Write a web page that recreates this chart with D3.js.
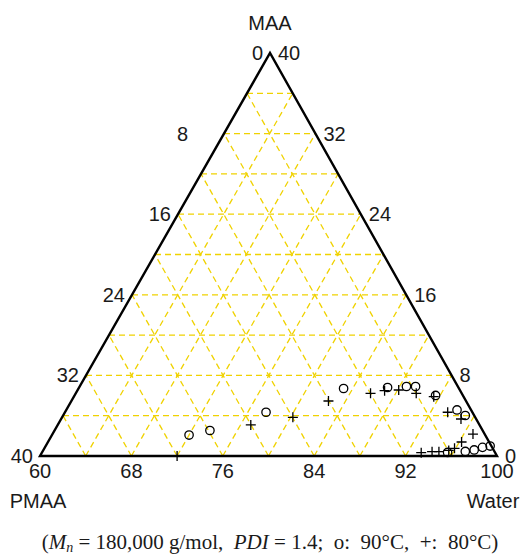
<!DOCTYPE html>
<html>
<head>
<meta charset="utf-8">
<script src="https://cdn.jsdelivr.net/npm/d3@7"></script>
<style>
  html, body { margin: 0; padding: 0; background: #fff; }
  svg { display: block; }
</style>
</head>
<body>
<script>
// ---- data (water %, MAA %; PMAA = 100 - water - MAA) ----
const circleWater = [72.0, 73.6, 77.6, 83.2, 87.0, 88.6, 89.4, 91.6, 94.2, 95.2, 95.5, 97.0, 97.7, 98.3, 98.9];
const circleMAA   = [2.08, 2.53, 4.34, 6.70, 6.80, 6.90, 6.90, 6.01, 4.57, 4.02, 0.35, 0.45, 0.60, 0.86, 0.99];
const plusWater = [72.0, 76.9, 80.2, 82.5, 85.8, 86.9, 88.1, 89.8, 91.5, 93.5, 95.0, 96.8, 96.2, 95.9, 93.2, 94.1, 94.7, 95.5];
const plusMAA   = [0.0, 3.08, 3.84, 5.46, 6.22, 6.48, 6.55, 6.22, 5.89, 4.34, 3.67, 2.18, 1.39, 0.76, 0.33, 0.43, 0.43, 0.55];
const gridSteps = [4, 8, 12, 16, 20, 24, 28, 32, 36];
const waterTicks = [60, 68, 76, 84, 92, 100];
const maaTicks = [0, 8, 16, 24, 32, 40];
const pmaaTicks = [0, 8, 16, 24, 32, 40];

const W = 525, H = 555;
const svg = d3.select("body").append("svg").attr("width", W).attr("height", H);

// ternary scales
const xBase = d3.scaleLinear().domain([60, 100]).range([40, 497]);
const shear = d3.scaleLinear().domain([0, 40]).range([0, 230]);
const yScale = d3.scaleLinear().domain([0, 40]).range([456, 53]);
const px = (w, m) => xBase(w) + shear(m);
const py = (w, m) => yScale(m);
const pt = (w, m) => [px(w, m), py(w, m)];

const line = d3.line();
const grid = svg.append("g").attr("fill", "none").attr("stroke", "#f0d200")
  .attr("stroke-width", 1.3).attr("stroke-dasharray", "6,4");

gridSteps.forEach(k => {
  grid.append("path").attr("d", line([pt(60, k), pt(100 - k, k)]));          // constant MAA
  grid.append("path").attr("d", line([pt(60 + k, 0), pt(60 + k, 40 - k)])); // constant water
  grid.append("path").attr("d", line([pt(100 - k, 0), pt(60, 40 - k)]));    // constant PMAA
});

// triangle frame
svg.append("path")
  .attr("d", line([pt(60, 0), pt(100, 0), pt(60, 40)]) + "Z")
  .attr("fill", "none").attr("stroke", "#000").attr("stroke-width", 2.4)
  .attr("stroke-linejoin", "miter");

const font = "'Liberation Sans', Arial, Helvetica, sans-serif";
const lab = svg.append("g").attr("font-family", font).attr("font-size", 20).attr("fill", "#1a1a1a");

// bottom (water) labels
waterTicks.forEach(w => {
  lab.append("text").attr("x", px(w, 0)).attr("y", 478).attr("text-anchor", "middle").text(w);
});
// left (PMAA) labels: on left edge, water = 60, MAA = 40 - p
pmaaTicks.forEach(p => {
  const m = 40 - p;
  const off = p === 8 ? 36 : 7;
  lab.append("text").attr("x", px(60, m) - off).attr("y", py(60, m)).attr("dy", "0.35em")
    .attr("text-anchor", "end").text(p);
});
// right (MAA) labels: on right edge, water = 100 - m
maaTicks.forEach(m => {
  lab.append("text").attr("x", px(100 - m, m) + 8).attr("y", py(100 - m, m)).attr("dy", "0.35em")
    .attr("text-anchor", "start").text(m);
});

lab.append("text").attr("x", 270).attr("y", 30).attr("text-anchor", "middle").text("MAA");
lab.append("text").attr("x", 38).attr("y", 508).attr("text-anchor", "middle").text("PMAA");
lab.append("text").attr("x", 493).attr("y", 508).attr("text-anchor", "middle").text("Water");

// markers
const mk = svg.append("g").attr("fill", "none").attr("stroke", "#000").attr("stroke-width", 1.3);
circleWater.forEach((w, i) => {
  mk.append("circle").attr("cx", px(w, circleMAA[i])).attr("cy", py(w, circleMAA[i])).attr("r", 4.2);
});
plusWater.forEach((w, i) => {
  const x = px(w, plusMAA[i]), y = py(w, plusMAA[i]);
  mk.append("path").attr("d", `M${x - 5},${y}H${x + 5}M${x},${y - 5}V${y + 5}`);
});

// caption
const cap = svg.append("text").attr("x", 270).attr("y", 549).attr("text-anchor", "middle")
  .attr("font-family", "'Liberation Serif', 'Times New Roman', serif").attr("font-size", 21).attr("fill", "#1a1a1a");
cap.append("tspan").text("(");
cap.append("tspan").attr("font-style", "italic").text("M");
cap.append("tspan").attr("font-style", "italic").attr("font-size", 14).attr("dy", 3).text("n");
cap.append("tspan").attr("dy", -3).text("\u00a0= 180,000 g/mol,\u00a0\u00a0");
cap.append("tspan").attr("font-style", "italic").text("PDI");
cap.append("tspan").text("\u00a0= 1.4;\u00a0\u00a0o:\u00a0\u00a090\u00b0C,\u00a0\u00a0+:\u00a0\u00a080\u00b0C)");
</script>
</body>
</html>
